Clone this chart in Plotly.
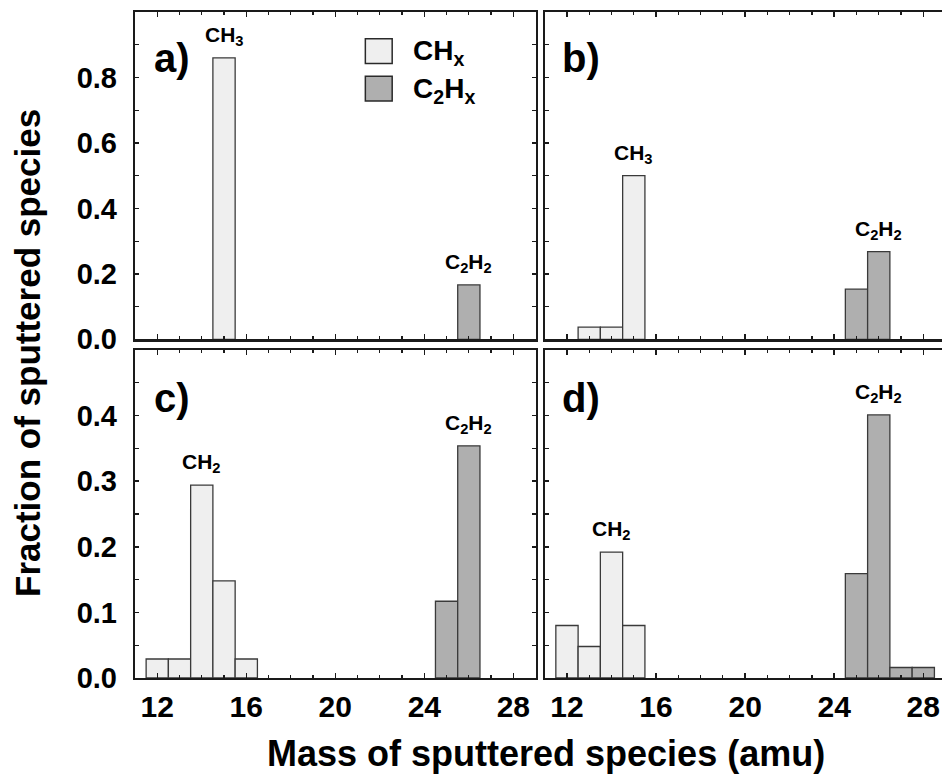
import plotly.graph_objects as go

# ---------------- data ----------------
ch_mass = [12, 13, 14, 15, 16]
c2_mass = [24, 25, 26, 27, 28]

a_ch = [None, None, None, 0.86, None]
b_ch = [None, 0.037, 0.037, 0.50, None]
c_ch = [0.029, 0.029, 0.294, 0.148, 0.029]
d_ch = [0.080, 0.048, 0.192, 0.080, None]

a_c2 = [None, None, 0.166, None, None]
b_c2 = [None, 0.153, 0.268, None, None]
c_c2 = [None, 0.117, 0.354, None, None]
d_c2 = [None, 0.159, 0.401, 0.016, 0.016]

panel_names = ["a)", "b)", "c)", "d)"]
ch_series = [a_ch, b_ch, c_ch, d_ch]
c2_series = [a_c2, b_c2, c_c2, d_c2]
ch_peak_labels = ["CH<sub>3</sub>", "CH<sub>3</sub>", "CH<sub>2</sub>", "CH<sub>2</sub>"]
c2_peak_labels = ["C<sub>2</sub>H<sub>2</sub>"] * 4

x_ticks = [12, 16, 20, 24, 28]
y_ticks_top = [0.0, 0.2, 0.4, 0.6, 0.8]
y_ticks_bot = [0.0, 0.1, 0.2, 0.3, 0.4]

legend_names = ["CH<sub>x</sub>", "C<sub>2</sub>H<sub>x</sub>"]

# ---------------- style ----------------
FONT = "Liberation Sans, Arial, sans-serif"
CH_FILL = "#efefef"
C2_FILL = "#afafaf"
BAR_LINE = "#3a3a3a"
AX = "#1a1a1a"

fig = go.Figure()

W, H = 942, 783
ml, mt, mb, mr = 135, 12, 105, 0
pw = W - ml - mr
ph = H - mt - mb
xa_dom = [0, 400.6 / pw]
xb_dom = [(544.7 - ml) / pw, 1.0]
ytop_dom = [(678 - 339.3) / ph, 1.0]
ybot_dom = [0, 328.0 / ph]

doms = [(xa_dom, ytop_dom), (xb_dom, ytop_dom), (xa_dom, ybot_dom), (xb_dom, ybot_dom)]

for i in range(4):
    n = i + 1
    xr = "x" if n == 1 else f"x{n}"
    yr = "y" if n == 1 else f"y{n}"
    fig.add_trace(go.Bar(x=ch_mass, y=ch_series[i], width=1,
                         marker=dict(color=CH_FILL, line=dict(color=BAR_LINE, width=1.3)),
                         xaxis=xr, yaxis=yr, showlegend=False, name="CHx"))
    fig.add_trace(go.Bar(x=c2_mass, y=c2_series[i], width=1,
                         marker=dict(color=C2_FILL, line=dict(color=BAR_LINE, width=1.3)),
                         xaxis=xr, yaxis=yr, showlegend=False, name="C2Hx"))

layout = dict(
    width=W, height=H,
    margin=dict(l=ml, r=mr, t=mt, b=mb),
    paper_bgcolor="white", plot_bgcolor="white",
    barmode="overlay", bargap=0,
    font=dict(family=FONT, color="black"),
)

for i, (xd, yd) in enumerate(doms):
    n = i + 1
    xk = "xaxis" if n == 1 else f"xaxis{n}"
    yk = "yaxis" if n == 1 else f"yaxis{n}"
    top = n in (1, 2)
    left = n in (1, 3)
    layout[xk] = dict(
        domain=xd, range=[11, 29] if left else [11, 11 + (W - 544.7) / 22.27],
        anchor="y" if n == 1 else f"y{n}",
        showline=True, linecolor=AX, linewidth=2.2, mirror="ticks",
        ticks="inside", ticklen=5, tickwidth=1.5, tickcolor=AX,
        tickvals=x_ticks, showticklabels=not top,
        tickfont=dict(size=30, family=FONT, weight="bold"),
        ticklabelstandoff=1,
        minor=dict(ticks="inside", dtick=1, tick0=0, ticklen=3, tickwidth=1.2, tickcolor=AX),
        showgrid=False, zeroline=False, fixedrange=True,
    )
    layout[yk] = dict(
        domain=yd, range=[0, 1.0] if top else [0, 0.5],
        anchor="x" if n == 1 else f"x{n}",
        showline=True, linecolor=AX, linewidth=2.2, mirror="ticks" if left else False,
        ticks="inside", ticklen=4, tickwidth=1.5, tickcolor=AX,
        tickvals=y_ticks_top if top else y_ticks_bot, tickformat=".1f",
        showticklabels=left,
        tickfont=dict(size=29, family=FONT, weight="bold"),
        ticklabelstandoff=10,
        minor=dict(ticks="inside", dtick=0.1 if top else 0.05, tick0=0, ticklen=4,
                   tickwidth=1.2, tickcolor=AX),
        showgrid=False, zeroline=False, fixedrange=True,
    )

fig.update_layout(**layout)

annotations = []
for i in range(4):
    n = i + 1
    sfx = "" if n == 1 else str(n)
    annotations.append(dict(
        text=panel_names[i], xref=f"x{sfx} domain", yref=f"y{sfx} domain",
        x=0.092, y=0.86 if n in (1, 2) else 0.855,
        xanchor="center", yanchor="middle", showarrow=False,
        font=dict(size=40, family=FONT, weight="bold", color="black")))

for i in range(4):
    n = i + 1
    xr = "x" if n == 1 else f"x{n}"
    yr = "y" if n == 1 else f"y{n}"
    for masses, vals, lab in ((ch_mass, ch_series[i], ch_peak_labels[i]),
                              (c2_mass, c2_series[i], c2_peak_labels[i])):
        pairs = [(m, v) for m, v in zip(masses, vals) if v is not None]
        pm, pv = max(pairs, key=lambda p: p[1])
        annotations.append(dict(
            text=lab, xref=xr, yref=yr, x=pm, y=pv, yshift=22,
            xanchor="center", yanchor="middle", showarrow=False,
            font=dict(size=21, family=FONT, weight="bold", color="black")))

shapes = []
leg_fills = [CH_FILL, C2_FILL]
leg_boxes = [(0.918, 0.843), (0.8035, 0.728)]
for (yt, yb), fill, name in zip(leg_boxes, leg_fills, legend_names):
    shapes.append(dict(type="rect", xref="x domain", yref="y domain",
                       x0=0.575, x1=0.642, y0=yb, y1=yt,
                       fillcolor=fill, line=dict(color="#2a2a2a", width=1.5)))
    annotations.append(dict(
        text=name, xref="x domain", yref="y domain", x=0.69, y=(yt + yb) / 2 - 0.005,
        xanchor="left", yanchor="middle", showarrow=False,
        font=dict(size=28, family=FONT, weight="bold", color="black")))

annotations.append(dict(
    text="Mass of sputtered species (amu)", xref="paper", yref="paper",
    x=(546 - ml) / pw, y=(678 - 753) / ph, xanchor="center", yanchor="middle",
    showarrow=False, font=dict(size=36, family=FONT, weight="bold", color="black")))
annotations.append(dict(
    text="Fraction of sputtered species", xref="paper", yref="paper",
    x=(28 - ml) / pw, y=(678 - 353) / ph, xanchor="center", yanchor="middle",
    textangle=-90, showarrow=False,
    font=dict(size=35, family=FONT, weight="bold", color="black")))

fig.update_layout(annotations=annotations, shapes=shapes)

fig.write_html(
    "out.html",
    config={"displayModeBar": False, "staticPlot": True},
    post_script="document.body.style.margin='0';document.body.style.overflow='hidden';"
                "document.documentElement.style.overflow='hidden';",
)
